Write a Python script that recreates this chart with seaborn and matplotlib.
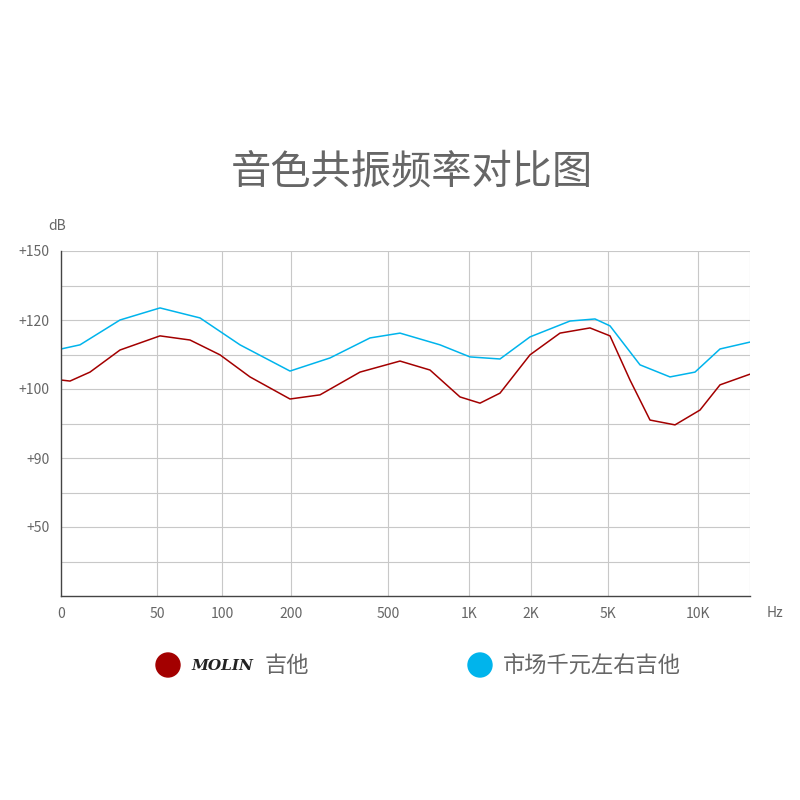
import matplotlib
matplotlib.use("Agg")
import matplotlib.pyplot as plt
import seaborn as sns

sns.set_theme(style="white")
plt.rcParams['font.family'] = ['Noto Sans CJK SC', 'DejaVu Sans']

x_ticks = [0, 96, 161, 230, 327, 408, 470, 547, 637]
x_labels = ["0", "50", "100", "200", "500", "1K", "2K", "5K", "10K"]
y_ticks = [2, 4, 6, 8, 10]
y_labels = ["+50", "+90", "+100", "+120", "+150"]

red_x = [0, 9, 29, 59, 99, 129, 159, 189, 229, 259, 299, 339, 369, 399, 419, 439, 469, 499, 529, 549, 569, 589, 614, 639, 659, 689]
red_y = [6.26, 6.23, 6.49, 7.13, 7.54, 7.42, 6.99, 6.35, 5.71, 5.83, 6.49, 6.81, 6.55, 5.77, 5.59, 5.88, 6.99, 7.62, 7.77, 7.54, 6.26, 5.10, 4.96, 5.39, 6.12, 6.43]
blue_x = [0, 19, 59, 99, 139, 179, 229, 269, 309, 339, 379, 409, 439, 469, 509, 534, 549, 579, 609, 634, 659, 689]
blue_y = [7.16, 7.28, 8.0, 8.35, 8.06, 7.28, 6.52, 6.90, 7.48, 7.62, 7.28, 6.93, 6.87, 7.51, 7.97, 8.03, 7.83, 6.70, 6.35, 6.49, 7.16, 7.36]

red = "#a30000"
blue = "#00b4ec"
grey = "#666666"

fig = plt.figure(figsize=(8, 8), dpi=100)
ax = fig.add_axes([61/800, 204/800, 689/800, 345/800])
sns.lineplot(x=red_x, y=red_y, ax=ax, color=red, lw=1.1)
sns.lineplot(x=blue_x, y=blue_y, ax=ax, color=blue, lw=1.1)
ax.set_xlim(0, 689)
ax.set_ylim(0, 10)
for v in range(1, 11):
    ax.axhline(v, color="#c8c8c8", lw=0.8, zorder=0)
for v in x_ticks[1:] + [689]:
    ax.axvline(v, color="#c8c8c8", lw=0.8, zorder=0)
for s in ["top", "right"]:
    ax.spines[s].set_visible(False)
for s in ["left", "bottom"]:
    ax.spines[s].set_color("#444444")
    ax.spines[s].set_linewidth(1)
ax.set_xticks(x_ticks)
ax.set_xticklabels(x_labels, color=grey, fontsize=10)
ax.set_yticks(y_ticks)
ax.set_yticklabels(y_labels, color=grey, fontsize=10)
ax.tick_params(length=0, pad=8)
fig.text(775/800, 1-613/800, "Hz", ha="center", va="center", color=grey, fontsize=10)
fig.text(57/800, 1-226/800, "dB", ha="center", va="center", color=grey, fontsize=10)
fig.text(412/800, 1-172/800, "音色共振频率对比图", ha="center", va="center", color=grey,
         fontsize=29, fontweight="light")

fig.patches.append(plt.Circle((168/800, 1-665/800), 12/800, transform=fig.transFigure, color=red, figure=fig))
fig.patches.append(plt.Circle((480/800, 1-665/800), 12/800, transform=fig.transFigure, color=blue, figure=fig))
fig.text(191/800, 1-666/800, "MOLIN", ha="left", va="center", color="#222222", fontsize=11,
         family=["DejaVu Serif"], fontweight="bold", fontstyle="italic")
fig.text(265/800, 1-665/800, "吉他", ha="left", va="center", color=grey, fontsize=16, fontweight="light")
fig.text(503/800, 1-665/800, "市场千元左右吉他", ha="left", va="center", color=grey, fontsize=16,
         fontweight="light")
fig.savefig("out.png", dpi=100)
